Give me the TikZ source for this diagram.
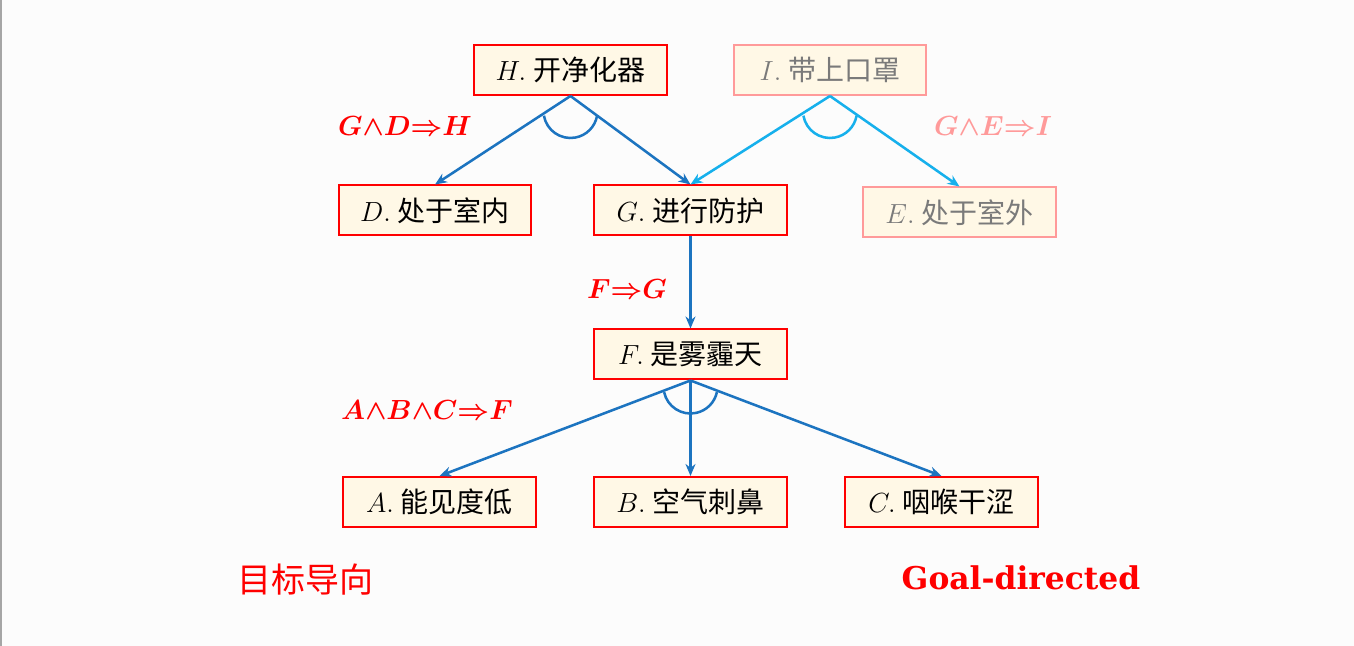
\documentclass[tikz,border=0pt]{standalone}
\usepackage{fontspec}
\setmainfont{Noto Sans CJK SC}
\newfontfamily\goalfont{DejaVu Serif}
\usepackage{amsmath}
\usepackage{bm}
\usepackage{xcolor}
\usetikzlibrary{arrows.meta}

\definecolor{boxred}{HTML}{FF0000}
\definecolor{boxfill}{HTML}{FFF8E6}
\definecolor{softred}{HTML}{FF9A9A}
\definecolor{softtext}{HTML}{7A7A7A}
\definecolor{darkblue}{HTML}{1C74C0}
\definecolor{lightblue}{HTML}{16B0EC}

\newcommand{\fa}[2]{$#1.$\hspace{0.25em}#2}
\newcommand{\rl}[1]{$\bm{#1}$}

\tikzset{
  fact/.style={draw=boxred, fill=boxfill, line width=1.5pt, minimum width=144.5pt,
    minimum height=37.5pt, inner sep=0pt, font=\fontsize{21}{25}\selectfont},
  softfact/.style={fact, draw=softred, text=softtext},
  rulelbl/.style={text=boxred, font=\fontsize{19.5}{23}\selectfont},
  implies/.style={draw=darkblue, line width=1.9pt, -{Stealth[length=9pt,width=7.5pt]}},
  softimplies/.style={implies, draw=lightblue},
  andarc/.style={draw=darkblue, line width=1.9pt},
}

\begin{document}
\begin{tikzpicture}[x=0.75pt, y=0.75pt]
\useasboundingbox[fill=white!99!black] (0,0) rectangle (1354,646);
\fill[black!35] (0,0) rectangle (2,646);

\node[fact] (h) at (570.5,576) {\fa{H}{开净化器}};
\node[softfact] (i) at (830,576) {\fa{I}{带上口罩}};
\node[fact] (d) at (435,435.5) {\fa{D}{处于室内}};
\node[fact] (g) at (690.5,435.5) {\fa{G}{进行防护}};
\node[softfact] (e) at (959.5,433.5) {\fa{E}{处于室外}};
\node[fact] (f) at (690.5,291.5) {\fa{F}{是雾霾天}};
\node[fact] (a) at (439.5,144) {\fa{A}{能见度低}};
\node[fact] (b) at (690.5,144) {\fa{B}{空气刺鼻}};
\node[fact] (c) at (941.5,144) {\fa{C}{咽喉干涩}};

% rules
\node[rulelbl] (gdh) at (405,520) {\rl{G{\wedge}D{\Rightarrow}H}};
\node[rulelbl, text=softred] (gei) at (993,520) {\rl{G{\wedge}E{\Rightarrow}I}};
\node[rulelbl] (fg) at (627,357) {\rl{F{\Rightarrow}G}};
\node[rulelbl] (abcf) at (427,236) {\rl{A{\wedge}B{\wedge}C{\Rightarrow}F}};

\draw[implies] (h.south) -- (d.north);
\draw[implies] (h.south) -- (g.north);
\draw[andarc] ([yshift=-11.25pt]h.south) ++(190:27) arc[start angle=190, end angle=350, radius=27];

\draw[softimplies] (i.south) -- (g.north);
\draw[softimplies] (i.south) -- (e.north);
\draw[andarc, draw=lightblue] ([yshift=-11.25pt]i.south) ++(190:27) arc[start angle=190, end angle=350, radius=27];

\draw[implies] (g.south) -- (f.north);

\draw[implies] (f.south) -- (a.north);
\draw[implies] (f.south) -- (b.north);
\draw[implies] (f.south) -- (c.north);
\draw[andarc] ([yshift=-4.5pt]f.south) ++(192:27) arc[start angle=192, end angle=348, radius=27];

\node[text=boxred, font=\fontsize{25.5}{30}\selectfont] (goalcn) at (305,66) {目标导向};
\node[text=boxred, font=\goalfont\bfseries\fontsize{23.5}{28}\selectfont] (goalen) at (1021,68) {Goal-directed};
\end{tikzpicture}
\end{document}
